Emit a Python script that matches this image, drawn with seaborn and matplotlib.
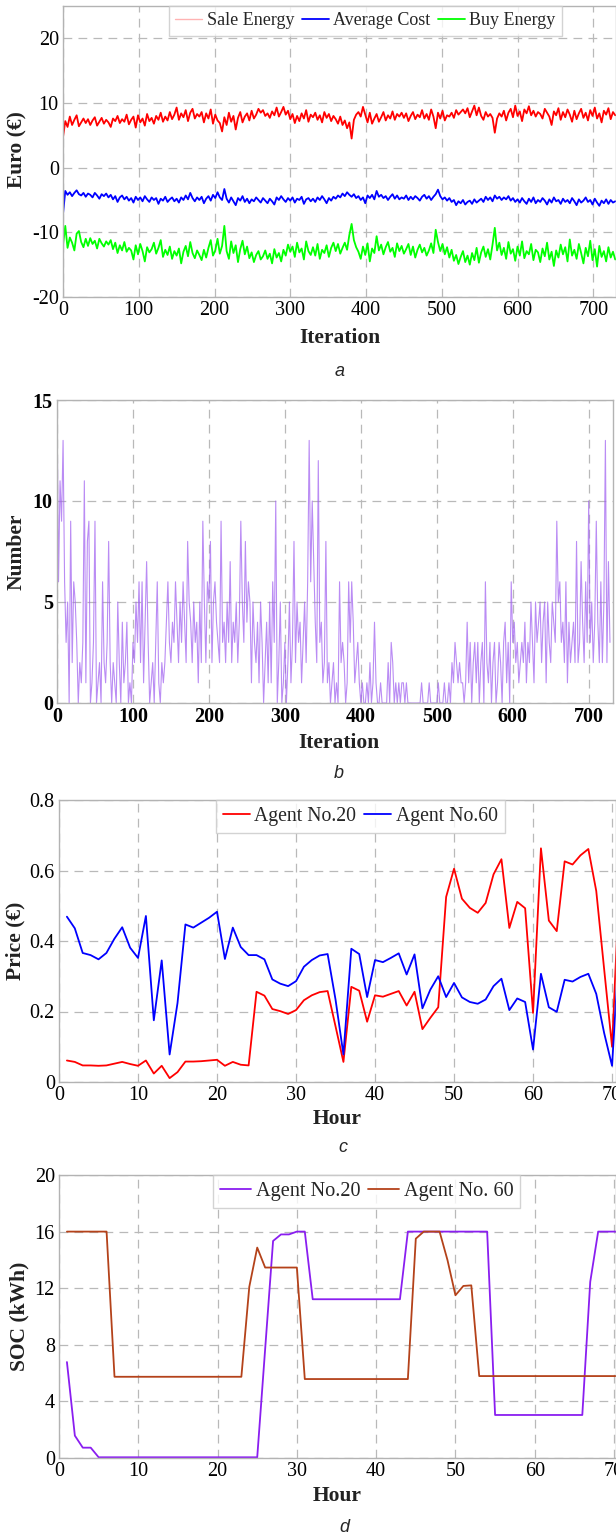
import numpy as np
import pandas as pd
import matplotlib
matplotlib.use('Agg')
import matplotlib.pyplot as plt
import seaborn as sns
from matplotlib.lines import Line2D

# ---------------- data ----------------
# Panel a: sampled every 3 iterations
sale_energy = [
    4.7, 7.2, 6.3, 7.9, 6.6, 7.4, 8.1, 6.4, 7.0, 7.6,
    6.9, 7.5, 6.6, 7.3, 7.8, 6.5, 7.1, 7.7, 6.8, 7.4,
    7.0, 6.3, 7.6, 7.2, 8.0, 6.9, 7.5, 7.1, 8.2, 6.7,
    7.4, 7.9, 6.2, 8.1, 7.0, 7.6, 6.5, 8.3, 7.2, 7.7,
    6.8, 8.0, 7.4, 8.5, 7.1, 7.9, 7.3, 8.6, 7.5, 8.2,
    9.3, 7.4, 8.4, 7.8, 8.9, 7.2, 8.5, 9.1, 7.6, 8.3,
    7.9, 8.6, 7.0, 8.4, 7.6, 9.0, 6.8, 8.2, 7.3, 6.9,
    5.6, 7.8, 6.6, 8.5, 7.1, 8.0, 5.9, 7.7, 8.6, 7.0,
    7.9, 8.4, 7.3, 8.8, 7.6, 8.2, 9.1, 8.5, 8.9, 8.0,
    8.4, 7.7, 8.7, 8.1, 9.3, 7.9, 8.6, 9.4, 8.2, 8.8,
    7.5, 8.3, 6.9, 8.0, 7.2, 8.4, 7.6, 8.9, 7.1, 8.2,
    7.8, 8.5, 7.4, 8.1, 7.0, 8.6, 7.7, 8.3, 7.2, 8.0,
    7.5, 6.8, 7.9, 6.6, 7.3, 6.1, 7.0, 4.5, 7.4, 8.2,
    8.6, 7.9, 9.4, 8.2, 7.0, 8.5, 6.8, 7.6, 8.3, 7.1,
    7.8, 8.6, 7.3, 8.1, 7.6, 8.7, 7.4, 8.3, 7.9, 8.5,
    7.7, 8.4, 7.2, 8.0, 8.6, 7.5, 8.2, 7.8, 8.9, 7.6,
    8.3, 7.4, 9.0, 7.9, 6.1, 8.5, 7.6, 8.8, 7.3, 8.1,
    7.9, 8.5, 7.7, 8.9, 8.2, 8.6, 9.0, 8.4, 9.2, 7.8,
    8.7, 9.6, 8.1, 9.3, 8.0, 7.4, 8.6, 7.9, 8.3, 7.7,
    5.4, 7.6, 8.4, 7.9, 8.8, 7.3, 8.5, 9.1, 7.8, 9.6,
    8.0, 8.7, 7.2, 9.0, 8.4, 9.5, 8.1, 8.8, 7.9, 8.6,
    8.3, 7.6, 9.1, 8.5, 7.9, 6.6, 8.7, 8.1, 9.2, 7.4,
    8.6, 7.8, 9.0, 8.2, 7.1, 8.8, 7.5, 8.4, 9.1, 7.7,
    8.5, 7.3, 8.9, 8.0, 9.3, 7.6, 8.4, 7.0, 8.8, 8.2,
    9.2, 7.5, 8.6, 8.1,
]
average_cost = [
    -7.2, -3.6, -4.2, -3.8, -4.4, -3.9, -3.5, -4.1, -4.3, -3.9,
    -4.5, -4.0, -4.2, -4.6, -3.9, -4.3, -4.8, -4.1, -4.4, -4.0,
    -4.6, -4.2, -4.9, -4.4, -5.3, -4.6, -4.3, -4.9, -4.5, -5.1,
    -4.7, -5.4, -4.5, -5.0, -4.6, -5.2, -4.4, -4.9, -5.3, -4.6,
    -5.0, -4.7, -5.6, -4.8, -5.1, -4.5, -5.3, -4.9, -4.6, -5.2,
    -4.8, -5.4, -4.6, -5.0, -4.3, -4.9, -3.9, -4.7, -5.2, -4.6,
    -5.0, -4.5, -5.5, -4.8, -4.4, -5.1, -4.2, -4.7, -3.8, -4.6,
    -5.0, -3.3, -4.8, -5.4, -4.6, -5.2, -5.8, -4.7, -5.1, -4.4,
    -5.3, -4.8, -5.5, -4.9, -5.2, -4.6, -5.0, -5.4, -4.7, -5.1,
    -5.5, -4.8, -5.2, -5.7, -4.6, -5.0, -4.4, -4.9, -5.3, -4.7,
    -5.1, -4.6, -5.4, -4.8, -5.0, -4.5, -5.6, -4.9, -4.7, -5.2,
    -4.8, -5.3, -4.6, -5.0, -4.4, -4.9, -5.5, -4.7, -5.1, -4.5,
    -4.8, -4.3, -4.6, -4.0, -4.4, -3.8, -4.2, -4.5, -4.1, -4.7,
    -4.4, -5.0, -4.6, -5.5, -4.3, -4.7, -4.2, -4.9, -3.6, -4.5,
    -4.2, -4.7, -4.4, -5.0, -4.5, -4.1, -4.8, -4.3, -4.9, -4.6,
    -4.8, -4.3, -5.0, -4.5, -4.9, -4.4, -4.7, -5.1, -4.5, -4.2,
    -4.8, -4.4, -5.0, -4.5, -4.1, -3.4, -4.4, -4.9, -4.6, -5.1,
    -4.7, -5.3, -5.0, -5.8, -5.2, -5.5, -5.0, -5.7, -5.3, -5.1,
    -5.6, -4.9, -5.4, -5.1, -4.8, -5.3, -4.5, -5.0, -4.6, -5.2,
    -4.3, -4.8, -4.5, -5.0, -4.6, -4.9, -4.4, -5.1, -4.7, -5.3,
    -4.9, -5.4, -4.7, -5.2, -5.6, -4.8, -5.3, -4.6, -5.5, -5.0,
    -5.3, -4.7, -5.1, -5.7, -4.9, -5.4, -4.6, -5.2, -5.0, -5.6,
    -4.8, -5.3, -5.0, -5.5, -4.7, -5.2, -5.8, -4.9, -5.4, -5.1,
    -4.6, -5.3, -5.0, -5.7, -4.8, -5.4, -5.9, -5.1, -5.5, -4.9,
    -5.6, -5.0, -5.4, -5.2,
]
buy_energy = [
    -12.0, -9.0, -12.4, -10.8, -11.6, -12.8, -10.2, -9.8, -11.5, -12.3,
    -11.0, -12.1, -10.9, -11.8, -11.3, -12.5, -11.0, -11.7, -12.2, -11.4,
    -11.9, -11.2, -12.6, -11.6, -13.2, -12.0, -12.8, -11.5, -13.0, -12.4,
    -12.8, -14.2, -12.0, -13.4, -11.8, -12.9, -14.5, -12.3, -13.1, -12.6,
    -11.6, -13.3, -12.4, -11.2, -13.8, -12.7, -13.5, -12.2, -14.1, -12.9,
    -13.6, -12.5, -14.8, -13.0, -12.1, -13.7, -11.5, -13.2, -14.0, -12.8,
    -13.5, -14.3, -12.7, -13.9, -12.4, -11.2, -13.6, -12.8, -11.0, -13.3,
    -12.1, -9.0, -12.9, -14.1, -11.4, -13.2, -12.0, -14.6, -12.6, -11.3,
    -13.4, -12.2, -14.0, -13.1, -14.6, -13.5, -12.9, -14.2, -13.7, -12.8,
    -14.1, -13.3, -14.8, -12.6, -13.9, -13.2, -14.5, -12.7, -13.6, -11.9,
    -13.0, -12.2, -13.8, -11.6, -13.1, -12.5, -14.2, -11.4, -12.9, -13.5,
    -12.3, -13.6, -11.8, -14.1, -12.7, -13.2, -12.0, -13.8, -12.4, -11.6,
    -12.9, -11.8, -13.3, -12.4, -11.6, -12.7, -10.4, -8.7, -11.2, -12.3,
    -13.0, -14.1, -12.2, -13.5, -11.7, -14.5, -12.5, -13.2, -10.6, -12.8,
    -11.9, -13.4, -12.3, -11.5, -13.0, -12.4, -13.8, -11.7, -12.9, -12.1,
    -13.3, -12.6, -11.8, -13.5, -12.2, -13.9, -12.7, -11.9, -13.1, -12.4,
    -13.6, -12.8, -11.7, -13.2, -9.6, -11.5, -12.9, -11.8, -13.4, -12.3,
    -13.9, -12.7, -14.4, -13.5, -14.9, -13.8, -12.9, -14.6, -13.6, -15.0,
    -13.2, -14.3, -12.4, -14.7, -13.1, -12.2, -13.8, -12.6, -14.2, -11.9,
    -9.3, -12.8, -11.6, -13.5, -12.4, -14.1, -11.5, -13.3, -12.6, -14.4,
    -12.2, -13.6, -11.4, -14.0, -12.9, -13.4, -11.8, -14.3, -12.7, -13.1,
    -14.6, -12.5, -13.7, -11.6, -14.2, -13.0, -15.2, -12.8, -13.9, -11.9,
    -13.4, -12.3, -14.5, -11.1, -13.6, -12.7, -14.1, -11.8, -13.2, -14.8,
    -12.4, -13.7, -11.3, -14.3, -12.6, -15.3, -12.1, -13.8, -12.9, -14.5,
    -12.3, -13.9, -13.0, -14.2,
]
series_a = ['Sale Energy', 'Average Cost', 'Buy Energy']

# Panel b: sampled every 2 iterations
number_b = [
    15, 6, 11, 9, 13, 6, 3, 5, 0, 9,
    2, 6, 5, 3, 0, 2, 1, 3, 11, 1,
    8, 9, 0, 1, 3, 9, 0, 1, 2, 0,
    6, 2, 1, 3, 8, 2, 0, 2, 1, 0,
    5, 2, 0, 4, 1, 2, 4, 0, 1, 0,
    3, 2, 5, 3, 6, 2, 6, 1, 4, 7,
    3, 0, 1, 2, 0, 3, 6, 1, 0, 2,
    1, 2, 4, 6, 3, 2, 4, 3, 6, 4,
    2, 5, 3, 6, 4, 2, 8, 5, 4, 2,
    5, 3, 4, 1, 5, 2, 9, 5, 2, 6,
    5, 8, 2, 5, 6, 4, 3, 2, 9, 3,
    4, 2, 5, 3, 7, 2, 4, 3, 5, 2,
    4, 9, 5, 3, 8, 4, 6, 5, 1, 5,
    3, 2, 4, 1, 5, 3, 0, 2, 4, 1,
    5, 1, 6, 3, 10, 0, 2, 5, 0, 1,
    3, 0, 2, 5, 1, 3, 8, 2, 5, 3,
    4, 1, 3, 5, 2, 6, 13, 6, 10, 7,
    4, 2, 12, 3, 4, 1, 2, 8, 1, 2,
    0, 1, 2, 0, 1, 0, 6, 2, 3, 2,
    0, 1, 6, 3, 6, 4, 1, 2, 3, 1,
    0, 1, 0, 0, 1, 0, 2, 0, 1, 4,
    1, 0, 0, 1, 0, 0, 0, 0, 2, 0,
    3, 2, 0, 1, 0, 1, 0, 1, 1, 0,
    1, 0, 0, 0, 0, 0, 0, 0, 0, 0,
    1, 0, 0, 0, 0, 1, 0, 0, 0, 0,
    0, 1, 0, 0, 0, 1, 0, 0, 1, 0,
    2, 1, 3, 2, 1, 2, 1, 1, 0, 1,
    4, 1, 3, 0, 2, 3, 1, 3, 0, 2,
    3, 0, 6, 2, 1, 3, 0, 2, 3, 0,
    1, 3, 2, 0, 3, 4, 1, 3, 0, 6,
    3, 4, 2, 3, 1, 2, 3, 2, 4, 1,
    3, 2, 5, 3, 1, 5, 3, 4, 5, 2,
    4, 5, 1, 5, 3, 2, 5, 4, 3, 9,
    5, 6, 3, 4, 2, 6, 1, 4, 2, 3,
    4, 2, 8, 2, 3, 7, 4, 2, 6, 3,
    10, 3, 5, 2, 4, 9, 4, 2, 6, 2,
    5, 13, 2, 7, 3,
]

# Panel c: hourly price
price_agent20 = [
    0.061, 0.057, 0.047, 0.047, 0.046, 0.047, 0.052, 0.057, 0.051, 0.046,
    0.061, 0.024, 0.046, 0.011, 0.028, 0.058, 0.058, 0.059, 0.061, 0.063,
    0.046, 0.057, 0.049, 0.047, 0.256, 0.245, 0.207, 0.201, 0.193, 0.204,
    0.232, 0.246, 0.255, 0.258, 0.158, 0.057, 0.270, 0.259, 0.171, 0.246,
    0.242, 0.250, 0.258, 0.217, 0.256, 0.150, 0.182, 0.212, 0.525, 0.605,
    0.520, 0.494, 0.480, 0.508, 0.589, 0.632, 0.437, 0.511, 0.493, 0.196,
    0.663, 0.458, 0.428, 0.626, 0.617, 0.643, 0.661, 0.542, 0.320, 0.100,
    0.600,
]
price_agent60 = [
    0.469, 0.436, 0.366, 0.360, 0.348, 0.366, 0.406, 0.439, 0.381, 0.352,
    0.471, 0.175, 0.345, 0.078, 0.224, 0.447, 0.438, 0.452, 0.466, 0.483,
    0.349, 0.438, 0.383, 0.360, 0.360, 0.348, 0.291, 0.279, 0.272, 0.286,
    0.327, 0.346, 0.359, 0.363, 0.234, 0.078, 0.378, 0.363, 0.241, 0.346,
    0.340, 0.352, 0.365, 0.305, 0.362, 0.209, 0.262, 0.300, 0.241, 0.281,
    0.240, 0.227, 0.222, 0.234, 0.272, 0.293, 0.204, 0.237, 0.227, 0.092,
    0.307, 0.212, 0.199, 0.290, 0.285, 0.298, 0.307, 0.250, 0.139, 0.046,
    0.420,
]

# Panel d: hourly SOC
soc_agent20 = [
    6.78, 1.58, 0.73, 0.73, 0.05, 0.05, 0.05, 0.05, 0.05, 0.05,
    0.05, 0.05, 0.05, 0.05, 0.05, 0.05, 0.05, 0.05, 0.05, 0.05,
    0.05, 0.05, 0.05, 0.05, 0.05, 7.70, 15.34, 15.80, 15.80, 16.0,
    16.0, 11.22, 11.22, 11.22, 11.22, 11.22, 11.22, 11.22, 11.22, 11.22,
    11.22, 11.22, 11.22, 16.0, 16.0, 16.0, 16.0, 16.0, 16.0, 16.0,
    16.0, 16.0, 16.0, 16.0, 3.04, 3.04, 3.04, 3.04, 3.04, 3.04,
    3.04, 3.04, 3.04, 3.04, 3.04, 3.04, 12.45, 16.0, 16.0, 16.0,
    16.0,
]
soc_agent60 = [
    16.0, 16.0, 16.0, 16.0, 16.0, 16.0, 5.74, 5.74, 5.74, 5.74,
    5.74, 5.74, 5.74, 5.74, 5.74, 5.74, 5.74, 5.74, 5.74, 5.74,
    5.74, 5.74, 5.74, 12.10, 14.87, 13.46, 13.46, 13.46, 13.46, 13.46,
    5.58, 5.58, 5.58, 5.58, 5.58, 5.58, 5.58, 5.58, 5.58, 5.58,
    5.58, 5.58, 5.58, 5.58, 15.50, 16.0, 16.0, 16.0, 13.98, 11.50,
    12.16, 12.20, 5.79, 5.79, 5.79, 5.79, 5.79, 5.79, 5.79, 5.79,
    5.79, 5.79, 5.79, 5.79, 5.79, 5.79, 5.79, 5.79, 5.79, 5.79,
    5.79,
]

# ---------------- styling ----------------
sns.set_style('white')
plt.rcParams['font.family'] = ['Liberation Serif', 'DejaVu Serif']
plt.rcParams['axes.unicode_minus'] = False

W, H = 616, 1533
fig = plt.figure(figsize=(W / 100, H / 100), dpi=100)


def axes_px(x0, x1, ytop, ybot):
    return fig.add_axes([x0 / W, 1 - ybot / H, (x1 - x0) / W, (ybot - ytop) / H])


GRID = '#b9b9b9'
SPINE = '#b3b3b3'
TICK_FS = 14.5
LAB_FS = 15.5


def style(ax, bold_ticks=False):
    ax.grid(True, color=GRID, ls=(0, (7, 5)), lw=0.9)
    ax.set_axisbelow(True)
    for s in ax.spines.values():
        s.set_color(SPINE)
        s.set_linewidth(1.0)
    ax.tick_params(length=0, labelsize=TICK_FS, pad=3, colors='black')
    if bold_ticks:
        for lbl in ax.get_xticklabels() + ax.get_yticklabels():
            lbl.set_fontweight('bold')


def labels(ax, xl, yl, xpos, ypos):
    ax.set_xlabel(xl, fontsize=LAB_FS, fontweight='bold', color='#222222')
    ax.set_ylabel(yl, fontsize=LAB_FS, fontweight='bold', color='#222222')
    ax.xaxis.set_label_coords(xpos[0] / W, 1 - xpos[1] / H, transform=fig.transFigure)
    ax.yaxis.set_label_coords(ypos[0] / W, 1 - ypos[1] / H, transform=fig.transFigure)
    ax.xaxis.label.set_va('center')
    ax.yaxis.label.set_va('center')


def panel_letter(ch, x, y):
    fig.text(x / W, 1 - y / H, ch, family='Liberation Sans', style='italic',
             fontsize=13, ha='center', va='center')


def legend(ax, handles, names, x0, fs, hl):
    lg = ax.legend(handles, names, loc='upper left', bbox_to_anchor=(x0, 1.0),
                   borderaxespad=0, ncol=len(names), frameon=True, fancybox=False,
                   fontsize=fs, handlelength=hl, handletextpad=0.25,
                   columnspacing=0.4, borderpad=0.35, edgecolor='#c8c8c8')
    lg.get_frame().set_linewidth(1.0)
    return lg


# ---------------- panel a ----------------
axa = axes_px(63, 616, 6, 297)
iter_a = np.arange(0, 3 * len(sale_energy), 3)
df_a = pd.DataFrame({
    'Iteration': np.concatenate([iter_a, iter_a, iter_a]),
    'Euro': np.concatenate([sale_energy, average_cost, buy_energy]),
    'Series': np.repeat(series_a, len(iter_a)),
})
pal_a = {'Sale Energy': '#ff0000', 'Average Cost': '#0000ff', 'Buy Energy': '#00ff00'}
sns.lineplot(data=df_a, x='Iteration', y='Euro', hue='Series', palette=pal_a,
             estimator=None, sort=False, lw=1.3, legend=False, ax=axa)
axa.set_xlim(0, 730)
axa.set_ylim(-20, 25)
axa.set_xticks(range(0, 701, 100))
axa.set_yticks([-20, -10, 0, 10, 20])
style(axa)
labels(axa, 'Iteration', 'Euro (€)', (340, 338), (17, 150))
legend(axa, [Line2D([], [], color='#ffb3b3', lw=1.0),
             Line2D([], [], color='#0000ff', lw=1.3),
             Line2D([], [], color='#00ff00', lw=1.3)], series_a,
       (169 - 63) / 553, 13.0, 1.5)
panel_letter('a', 340, 371)

# ---------------- panel b ----------------
axb = axes_px(57, 613, 400, 703)
iter_b = np.arange(0, 2 * len(number_b), 2)
sns.lineplot(x=iter_b, y=number_b, color='#a060f0', lw=0.8, alpha=0.72,
             estimator=None, sort=False, ax=axb)
axb.set_xlim(0, 732)
axb.set_ylim(0, 15)
axb.set_xticks(range(0, 701, 100))
axb.set_yticks([0, 5, 10, 15])
style(axb, bold_ticks=True)
labels(axb, 'Iteration', 'Number', (339, 743), (17, 552))
panel_letter('b', 339, 773)

# ---------------- panel c ----------------
axc = axes_px(59, 616, 800, 1082)
hours_c = np.arange(1, len(price_agent20) + 1)
df_c = pd.DataFrame({
    'Hour': np.concatenate([hours_c, hours_c]),
    'Price': np.concatenate([price_agent20, price_agent60]),
    'Agent': np.repeat(['Agent No.20', 'Agent No.60'], len(hours_c)),
})
sns.lineplot(data=df_c, x='Hour', y='Price', hue='Agent',
             palette={'Agent No.20': '#ff0000', 'Agent No.60': '#0000ff'},
             estimator=None, sort=False, lw=1.3, legend=False, ax=axc)
axc.set_xlim(0, 70.5)
axc.set_ylim(0, 0.8)
axc.set_xticks(range(0, 71, 10))
axc.set_yticks([0, 0.2, 0.4, 0.6, 0.8])
axc.set_yticklabels(['0', '0.2', '0.4', '0.6', '0.8'])
style(axc)
labels(axc, 'Hour', 'Price (€)', (337, 1119), (15, 941))
legend(axc, [Line2D([], [], color='#ff0000', lw=1.3),
             Line2D([], [], color='#0000ff', lw=1.3)],
       ['Agent No.20', 'Agent No.60'], (216 - 59) / 557, 14.2, 1.35)
panel_letter('c', 343, 1148)

# ---------------- panel d ----------------
axd = axes_px(59, 616, 1175, 1458)
hours_d = np.arange(1, len(soc_agent20) + 1)
df_d = pd.DataFrame({
    'Hour': np.concatenate([hours_d, hours_d]),
    'SOC': np.concatenate([soc_agent20, soc_agent60]),
    'Agent': np.repeat(['Agent No.20', 'Agent No. 60'], len(hours_d)),
})
sns.lineplot(data=df_d, x='Hour', y='SOC', hue='Agent',
             palette={'Agent No.20': '#8a1ef0', 'Agent No. 60': '#b4421a'},
             estimator=None, sort=False, lw=1.3, legend=False, ax=axd)
axd.set_xlim(0, 70.25)
axd.set_ylim(0, 20)
axd.set_xticks(range(0, 71, 10))
axd.set_yticks([0, 4, 8, 12, 16, 20])
style(axd)
labels(axd, 'Hour', 'SOC (kWh)', (337, 1496), (19, 1316))
legend(axd, [Line2D([], [], color='#8a1ef0', lw=1.3),
             Line2D([], [], color='#b4421a', lw=1.3)],
       ['Agent No.20', 'Agent No. 60'], (213 - 59) / 557, 14.6, 1.5)
panel_letter('d', 344, 1527)

fig.savefig('out.png', dpi=100)
